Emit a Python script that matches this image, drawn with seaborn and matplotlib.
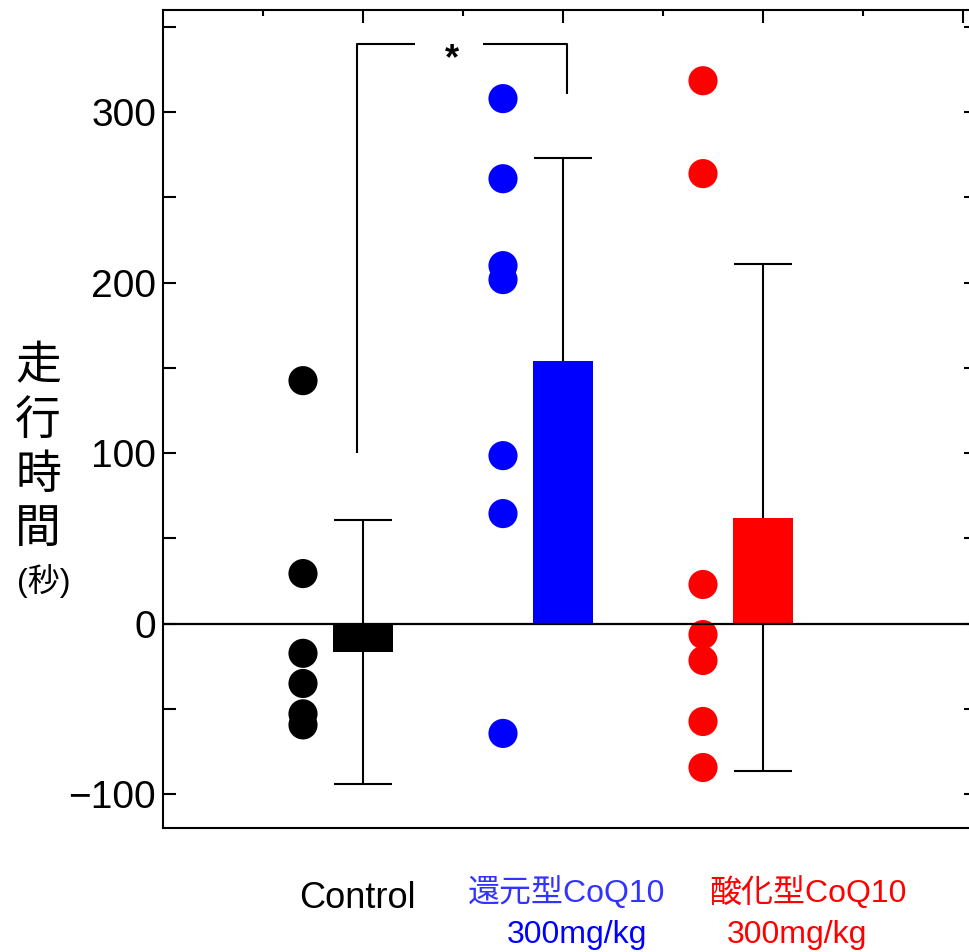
import numpy as np
import pandas as pd
import seaborn as sns
import matplotlib.pyplot as plt
from matplotlib.ticker import FixedLocator
import matplotlib.transforms as mtransforms

# data
groups = ["Control", "還元型CoQ10", "酸化型CoQ10"]
colors = ["black", "#0000ff", "#ff0000"]
means = [-16.5, 154.3, 62.2]
sds = [77.5, 119.0, 148.7]
control_pts = [142.5, 29.3, -17.5, -35.2, -53.0, -59.5]
reduced_pts = [308.0, 261.0, 210.0, 201.8, 98.5, 64.5, -64.5]
oxidized_pts = [318.5, 264.0, 22.9, -6.5, -21.7, -57.5, -84.5]
y_ticks = [-100, 0, 100, 200, 300]
y_ticklabels = ["\u2212100", "0", "100", "200", "300"]
group_labels = [("Control", None), ("還元型CoQ10", "300mg/kg"), ("酸化型CoQ10", "300mg/kg")]
ylabel_main = "走\n行\n時\n間"
ylabel_unit = "(秒)"

sns.set_style("ticks")
plt.rcParams["font.family"] = ["Liberation Sans", "Noto Sans CJK JP", "DejaVu Sans"]
plt.rcParams.update({"text.color": "black", "axes.edgecolor": "black",
                     "xtick.color": "black", "ytick.color": "black", "axes.labelcolor": "black"})

fig = plt.figure(figsize=(9.69, 9.52), dpi=100)
ax = fig.add_axes([163 / 969, 1 - 828 / 952, (976 - 163) / 969, 818 / 952])

bars = pd.DataFrame({"group": groups, "mean": means})
pts = pd.DataFrame({
    "group": ["Control"] * len(control_pts) + ["還元型CoQ10"] * len(reduced_pts) + ["酸化型CoQ10"] * len(oxidized_pts),
    "value": control_pts + reduced_pts + oxidized_pts,
})
pts["pos"] = pts["group"].map({g: i for i, g in enumerate(groups)}) - 0.3

# error bars first so the bars hide their lower half
ax.errorbar(range(3), means, yerr=sds, fmt="none", ecolor="black", elinewidth=1.5,
            capsize=21, capthick=1.5, zorder=1)
sns.barplot(data=bars, x="group", y="mean", hue="group", palette=colors, width=0.3,
            saturation=1, errorbar=None, legend=False, ax=ax, zorder=2, linewidth=0)
sns.scatterplot(data=pts, x="pos", y="value", hue="group", palette=colors, s=440,
                edgecolor="none", legend=False, ax=ax, zorder=3)

ax.axhline(0, color="black", lw=1.6, zorder=4)

# significance bracket
ax.plot([-0.03, -0.03, 0.26], [100, 340, 340], color="black", lw=1.5, solid_capstyle="butt")
ax.plot([0.6, 1.02, 1.02], [340, 340, 311], color="black", lw=1.5, solid_capstyle="butt")
ax.text(0.445, 331, "*", ha="center", va="center", fontsize=26, fontweight="bold")

ax.set_xlim(-1, 3.065)
ax.set_ylim(-120, 360)
ax.set_xlabel("")
ax.set_ylabel("")

ax.yaxis.set_major_locator(FixedLocator(y_ticks))
ax.set_yticklabels(y_ticklabels)
ax.yaxis.set_minor_locator(FixedLocator([-50, 50, 150, 250, 350]))
ax.xaxis.set_major_locator(FixedLocator([0, 1, 2, 3]))
ax.xaxis.set_minor_locator(FixedLocator([-0.5, 0.5, 1.5, 2.5]))
ax.tick_params(axis="y", which="both", direction="in", length=9, width=1.5,
               left=True, right=True, labelsize=28, pad=5)
ax.tick_params(axis="x", which="major", direction="in", length=9, width=1.5,
               top=True, bottom=False, labelbottom=False)
ax.tick_params(axis="x", which="minor", direction="in", length=4.5, width=1.5,
               top=True, bottom=False)
for s in ax.spines.values():
    s.set_linewidth(1.5)

# category labels under the axis
trans = mtransforms.blended_transform_factory(ax.transData, fig.transFigure)
ax.text(-0.03, 1 - 899 / 952, group_labels[0][0], transform=trans, ha="center", va="center",
        fontsize=26, color="black")
ax.text(1.02, 1 - 893 / 952, group_labels[1][0], transform=trans, ha="center", va="center",
        fontsize=23, color="#3333ff")
ax.text(1.07, 1 - 935 / 952, group_labels[1][1], transform=trans, ha="center", va="center",
        fontsize=23, color="#0000ff")
ax.text(2.225, 1 - 893 / 952, group_labels[2][0], transform=trans, ha="center", va="center",
        fontsize=23, color="#ff0000")
ax.text(2.17, 1 - 935 / 952, group_labels[2][1], transform=trans, ha="center", va="center",
        fontsize=23, color="#ff0000")

# stacked vertical y label
fig.text(38 / 969, 1 - 449 / 952, ylabel_main, ha="center", va="center", fontsize=33,
         linespacing=1.3)
fig.text(44 / 969, 1 - 581 / 952, ylabel_unit, ha="center", va="center", fontsize=23)

fig.savefig("out.png", dpi=100)
